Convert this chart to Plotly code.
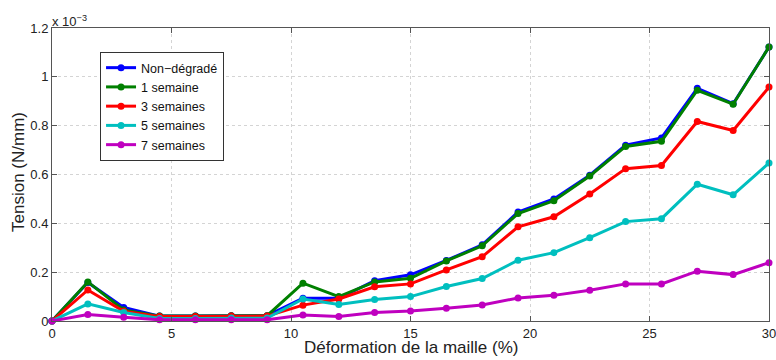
import plotly.graph_objects as go

# Déformation de la maille (%)
deformation = [0, 1.5, 3, 4.5, 6, 7.5, 9, 10.5, 12, 13.5, 15, 16.5, 18, 19.5, 21, 22.5, 24, 25.5, 27, 28.5, 30]

# Tension (x 10^-3 N/mm)
non_degrade = [0, 0.158, 0.055, 0.02, 0.02, 0.022, 0.022, 0.093, 0.093, 0.165, 0.189, 0.248, 0.312, 0.446, 0.500, 0.597, 0.720, 0.750, 0.953, 0.890, 1.122]
semaine_1   = [0, 0.160, 0.045, 0.02, 0.02, 0.022, 0.022, 0.155, 0.100, 0.160, 0.175, 0.246, 0.308, 0.440, 0.493, 0.594, 0.715, 0.736, 0.945, 0.888, 1.122]
semaines_3  = [0, 0.127, 0.040, 0.018, 0.018, 0.02, 0.02, 0.065, 0.090, 0.140, 0.152, 0.209, 0.263, 0.386, 0.427, 0.520, 0.624, 0.637, 0.817, 0.780, 0.958]
semaines_5  = [0, 0.070, 0.035, 0.01, 0.01, 0.012, 0.012, 0.090, 0.068, 0.088, 0.100, 0.141, 0.174, 0.249, 0.280, 0.341, 0.407, 0.419, 0.560, 0.517, 0.647]
semaines_7  = [0, 0.027, 0.015, 0.005, 0.005, 0.005, 0.005, 0.025, 0.018, 0.035, 0.041, 0.052, 0.066, 0.094, 0.105, 0.126, 0.152, 0.152, 0.204, 0.190, 0.239]

series = [
    ("Non\u2212dégradé", non_degrade, "#0000FF"),
    ("1 semaine", semaine_1, "#008000"),
    ("3 semaines", semaines_3, "#FF0000"),
    ("5 semaines", semaines_5, "#00BFBF"),
    ("7 semaines", semaines_7, "#BF00BF"),
]

x_ticks = [0, 5, 10, 15, 20, 25, 30]
y_ticks = [0, 0.2, 0.4, 0.6, 0.8, 1.0, 1.2]
y_ticktext = ["0", "0.2", "0.4", "0.6", "0.8", "1", "1.2"]

fig = go.Figure()
for name, vals, color in series:
    fig.add_trace(go.Scatter(
        x=deformation, y=vals, name=name, mode="lines+markers",
        line=dict(color=color, width=3),
        marker=dict(color=color, size=7),
        cliponaxis=False,
    ))

font_family = "Liberation Sans, Arial, sans-serif"
axis_common = dict(
    showline=True, linecolor="#555555", linewidth=1, mirror="ticks",
    ticks="inside", ticklen=5, tickcolor="#555555",
    showgrid=True, gridcolor="#d4d4d4", griddash="dot", gridwidth=1,
    zeroline=False, automargin=False, ticklabeloverflow="allow",
    tickfont=dict(size=13, color="#222222", family=font_family),
)

fig.update_layout(
    width=776, height=360,
    margin=dict(l=52, r=7, t=28, b=39),
    paper_bgcolor="white", plot_bgcolor="white",
    font=dict(family=font_family, color="#222222"),
    xaxis=dict(range=[0, 30], tickvals=x_ticks, **axis_common),
    yaxis=dict(range=[0, 1.2], tickvals=y_ticks, ticktext=y_ticktext, **axis_common),
    legend=dict(x=0.067, y=0.918, xanchor="left", yanchor="top",
                bgcolor="white", bordercolor="#333333", borderwidth=1,
                font=dict(size=12.5, color="#111111"), tracegroupgap=0,
                itemwidth=30),
    showlegend=True,
)

fig.add_annotation(
    text="Déformation de la maille (%)", xref="paper", yref="paper",
    x=0.5, y=0, xanchor="center", yanchor="top", yshift=-15,
    showarrow=False, font=dict(size=17, color="#222222"),
)
fig.add_annotation(
    text="Tension (N/mm)", xref="paper", yref="paper", textangle=-90,
    x=0, y=0.507, xanchor="center", yanchor="middle", xshift=-33.5,
    showarrow=False, font=dict(size=17, color="#222222"),
)
fig.add_annotation(
    text="x 10<sup>\u22123</sup>", xref="paper", yref="paper",
    x=0, y=1.0, xanchor="left", yanchor="bottom", xshift=-2, yshift=-3,
    showarrow=False, font=dict(size=13, color="#222222"),
)

# Remove the default 8px page margin so the 776x360 figure fills the window exactly.
fig.write_html(
    "out.html",
    config={"displayModeBar": False},
    post_script="document.body.style.margin='0';document.body.style.overflow='hidden';",
)
